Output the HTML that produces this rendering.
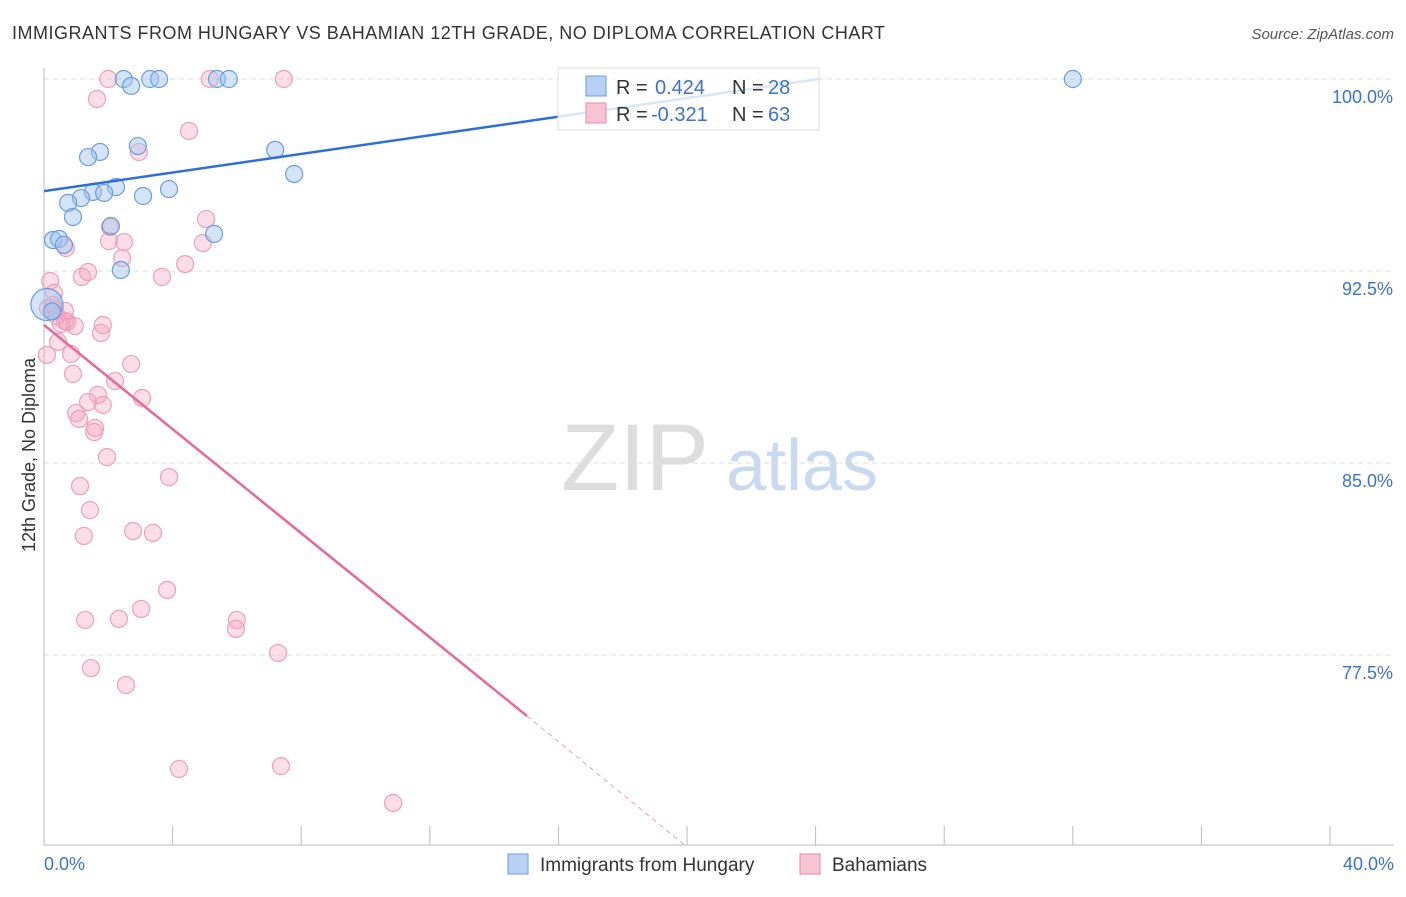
<!DOCTYPE html>
<html><head><meta charset="utf-8"><style>
body{margin:0;background:#fff;font-family:"Liberation Sans",sans-serif}
svg text{font-family:"Liberation Sans",sans-serif}
</style></head><body>
<svg width="1406" height="892">
<text x="12" y="39" font-size="18" fill="#333" textLength="873">IMMIGRANTS FROM HUNGARY VS BAHAMIAN 12TH GRADE, NO DIPLOMA CORRELATION CHART</text>
<text x="1394" y="39" font-size="15" fill="#555" font-style="italic" text-anchor="end">Source: ZipAtlas.com</text>
<g><text x="635" y="490" font-size="95" font-family="Liberation Serif" fill="#ddd" text-anchor="middle">ZIP</text><text x="802" y="490" font-size="72" fill="#c8d9f0" text-anchor="middle">atlas</text></g>
<g id="grid"></g><g id="axes"></g><g id="marks"></g>
<text x="35" y="455" font-size="18" fill="#333" transform="rotate(-90 35 455)" text-anchor="middle">12th Grade, No Diploma</text>
<g>
<rect x="558" y="68" width="261" height="62" fill="rgba(255,255,255,0.82)" stroke="#ddd"/>
<rect x="586" y="76" width="20" height="20" fill="#b8d0f3" stroke="#6a9de0"/>
<rect x="586" y="103" width="20" height="20" fill="#f8c3d3" stroke="#e88aa8"/>
<text y="94" font-size="20" fill="#333"><tspan x="616">R =</tspan><tspan x="655" fill="#3a72d0">0.424</tspan><tspan x="732">N =</tspan><tspan x="768" fill="#3a72d0">28</tspan></text>
<text y="121" font-size="20" fill="#333"><tspan x="616">R =</tspan><tspan x="651" fill="#3a72d0">-0.321</tspan><tspan x="732">N =</tspan><tspan x="768" fill="#3a72d0">63</tspan></text>
</g>
<g>
<rect x="508" y="854" width="20" height="20" fill="#b8d0f3" stroke="#6a9de0"/>
<text x="540" y="871" font-size="19" fill="#333">Immigrants from Hungary</text>
<rect x="800" y="854" width="20" height="20" fill="#f8c3d3" stroke="#e88aa8"/>
<text x="832" y="871" font-size="19" fill="#333">Bahamians</text>
</g>
</svg>
<script>
const yTicks=[100,92.5,85,77.5];
const yTickLabels=["100.0%","92.5%","85.0%","77.5%"];
const blueX=[2.48,2.71,3.30,3.58,5.38,5.75,32.0,2.92,1.74,1.37,7.19,7.78,3.89,2.24,1.52,1.87,1.15,0.75,3.08,0.90,2.08,5.29,0.28,0.47,0.62,2.39,0.09,0.25];
const blueY=[100,99.73,100,100,100,100,100,97.38,97.15,96.95,97.23,96.29,95.7,95.78,95.59,95.55,95.35,95.16,95.43,94.61,94.26,93.95,93.71,93.75,93.52,92.54,91.19,90.92];
const blueR=[8.5,8.5,8.5,8.5,8.5,8.5,8.5,8.5,8.5,8.5,8.5,8.5,8.5,8.5,8.5,8.5,8.5,8.5,8.5,8.5,8.5,8.5,8.5,8.5,8.5,8.5,16,8.5];
const pinkX=[2.0,5.16,7.46,1.65,4.51,2.95,5.04,2.05,2.02,2.49,0.68,4.94,2.43,1.37,1.18,4.39,3.67,0.19,0.31,0.28,0.34,0.65,0.72,0.96,0.53,1.77,0.44,0.84,0.09,2.71,0.90,2.21,1.68,3.05,1.37,1.83,1.00,1.09,1.59,1.56,1.96,3.89,1.12,1.43,2.77,3.39,1.24,3.83,3.02,1.28,2.33,6.0,5.97,7.28,1.46,2.55,4.2,7.37,10.86,0.65,1.83,0.40,0.12];
const pinkY=[100,100,100,99.22,97.97,97.15,94.53,94.22,93.67,93.63,93.40,93.59,93.0,92.46,92.27,92.77,92.27,92.11,91.64,91.17,90.98,90.94,90.51,90.35,90.43,90.08,89.73,89.26,89.22,88.87,88.48,88.2,87.66,87.54,87.38,87.27,86.95,86.72,86.37,86.21,85.23,84.45,84.10,83.16,82.34,82.27,82.15,80.04,79.3,78.87,78.91,78.87,78.52,77.58,76.99,76.33,73.05,73.16,71.72,90.55,90.39,90.74,91.05];
const xAxisLabels=["0.0%","40.0%"];
const blueTrend=[[0,95.62],[24.1,100]];
const pinkTrend=[[0,90.39],[15.02,75.12]];
const pinkDash=[[15.02,75.12],[20.0,70.0]];
const X=v=>44+v*32.15, Y=v=>79+(100-v)*25.6;
const NS="http://www.w3.org/2000/svg";
function mk(t,a,p){const e=document.createElementNS(NS,t);for(const k in a)e.setAttribute(k,a[k]);p.appendChild(e);return e;}
const grid=document.getElementById('grid'),axes=document.getElementById('axes'),marks=document.getElementById('marks');
yTicks.forEach((t,i)=>{
 const l=mk('line',{x1:44,x2:1394,y1:Y(t),y2:Y(t),stroke:'#ddd','stroke-dasharray':'5,4'},grid);
 
 
 const tx=mk('text',{x:1393,y:Y(t)+24,'font-size':18,fill:'#3a72d0','text-anchor':'end'},axes);tx.textContent=yTickLabels[i];
 
 
});
const xa=mk('line',{x1:44,x2:1394,y1:845,y2:845,stroke:'#bbb'},axes);


const ya=mk('line',{x1:44,x2:44,y1:68,y2:845,stroke:'#bbb'},axes);


for(let i=1;i<=10;i++){const t=mk('line',{x1:X(i*4),x2:X(i*4),y1:826,y2:845,stroke:'#bbb'},axes);
 
 }
[[0,'start'],[40,'end']].forEach(([v,a],i)=>{const t=mk('text',{x:i?1394:44,y:870,'font-size':18,fill:'#3a72d0','text-anchor':a},axes);t.textContent=xAxisLabels[i];
 
 });
pinkX.forEach((x,i)=>{const c=mk('circle',{cx:X(x),cy:Y(pinkY[i]),r:8.5,fill:'rgba(244,160,188,0.35)',stroke:'#eda0b8','stroke-width':1.2},marks);
 
 });
blueX.forEach((x,i)=>{const c=mk('circle',{cx:X(x),cy:Y(blueY[i]),r:blueR[i],fill:'rgba(160,195,240,0.45)',stroke:'#6a9de0','stroke-width':1.2},marks);
 
 });
const bl=mk('line',{x1:X(blueTrend[0][0]),y1:Y(blueTrend[0][1]),x2:X(blueTrend[1][0]),y2:Y(blueTrend[1][1]),stroke:'#2d6fd6','stroke-width':2.5},marks);


const pl=mk('line',{x1:X(pinkTrend[0][0]),y1:Y(pinkTrend[0][1]),x2:X(pinkTrend[1][0]),y2:Y(pinkTrend[1][1]),stroke:'#e8679a','stroke-width':2.5},marks);


const pd=mk('line',{x1:X(pinkDash[0][0]),y1:Y(pinkDash[0][1]),x2:X(pinkDash[1][0]),y2:Y(pinkDash[1][1]),stroke:'#e8a0b8','stroke-width':1,'stroke-dasharray':'5,4'},marks);


</script>
</body></html>
